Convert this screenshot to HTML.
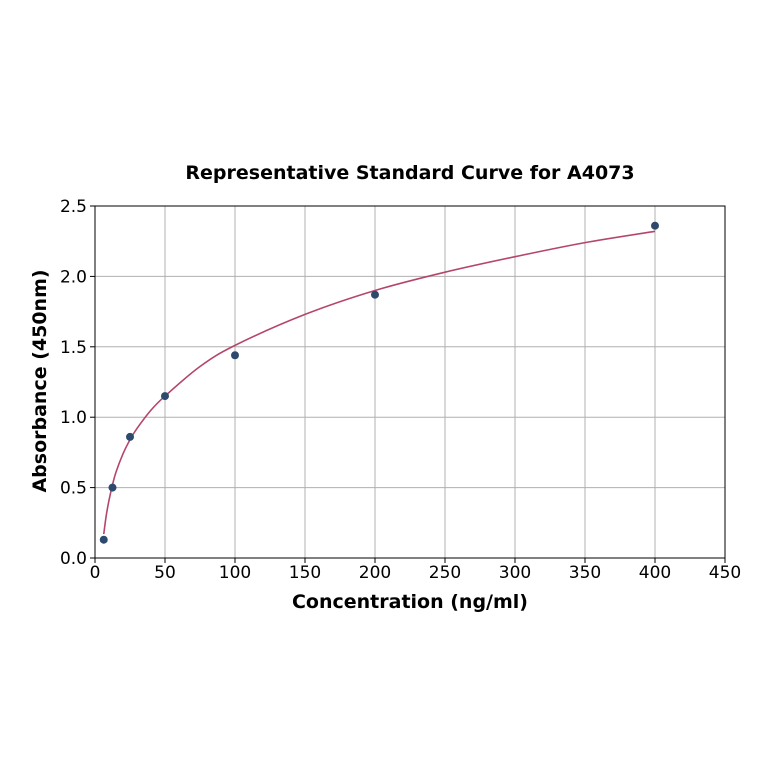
<!DOCTYPE html>
<html><head><meta charset="utf-8"><style>
body{margin:0;background:#fff;}
svg text{font-family:"DejaVu Sans","Liberation Sans",sans-serif;}
</style></head><body>
<svg id="chart" width="764" height="764" viewBox="0 0 764 764" xmlns="http://www.w3.org/2000/svg">
<rect width="764" height="764" fill="#fff"/>
<text x="410" y="179" text-anchor="middle" font-size="19" font-weight="bold">Representative Standard Curve for A4073</text>
<g id="grid"></g><g id="axes"></g><g id="series"></g>
<text x="410" y="608" text-anchor="middle" font-size="19" font-weight="bold">Concentration (ng/ml)</text>
<text transform="translate(46,381) rotate(-90)" text-anchor="middle" font-size="19" font-weight="bold">Absorbance (450nm)</text>
</svg>
<script>
const xTicks=[0,50,100,150,200,250,300,350,400,450];
const yTicks=[0.0,0.5,1.0,1.5,2.0,2.5];
const pointX=[6.25,12.5,25,50,100,200,400];
const pointY=[0.13,0.50,0.86,1.15,1.44,1.87,2.36];
const curveX=[6.25,8,10,12.5,15,20,25,30,40,50,75,100,150,200,250,300,350,400];
const curveY=[0.17,0.30,0.41,0.52,0.61,0.74,0.84,0.92,1.05,1.15,1.36,1.51,1.73,1.90,2.03,2.14,2.24,2.32];
const L=95,R=725,T=206,B=558;
const sx=v=>L+(v-0)/(450-0)*(R-L);
const sy=v=>B-(v-0)/(2.5-0)*(B-T);
const NS="http://www.w3.org/2000/svg";
function mk(tag,attrs,parent){const e=document.createElementNS(NS,tag);for(const k in attrs)e.setAttribute(k,attrs[k]);parent.appendChild(e);return e;}
const grid=document.getElementById('grid'),axes=document.getElementById('axes'),series=document.getElementById('series');
xTicks.forEach(t=>{
 const g=mk('line',{x1:sx(t),x2:sx(t),y1:T,y2:B,stroke:'#b0b0b0','stroke-width':1},grid);
 
 
 mk('line',{x1:sx(t),x2:sx(t),y1:B,y2:B+5,stroke:'#000','stroke-width':1},axes);
 const tx=mk('text',{x:sx(t),y:B+20,'text-anchor':'middle','font-size':17},axes);tx.textContent=t;
 
 
});
yTicks.forEach(t=>{
 const g=mk('line',{x1:L,x2:R,y1:sy(t),y2:sy(t),stroke:'#b0b0b0','stroke-width':1},grid);
 
 
 mk('line',{x1:L-5,x2:L,y1:sy(t),y2:sy(t),stroke:'#000','stroke-width':1},axes);
 const tx=mk('text',{x:L-8,y:sy(t)+6,'text-anchor':'end','font-size':17},axes);tx.textContent=t.toFixed(1);
 
 
});
const frame=mk('rect',{x:L,y:T,width:R-L,height:B-T,fill:'none',stroke:'#000','stroke-width':1},axes);


const P=curveX.map((x,i)=>[sx(x),sy(curveY[i])]);
let d='M'+P[0][0]+','+P[0][1];
for(let i=0;i<P.length-1;i++){
 const p0=P[Math.max(0,i-1)],p1=P[i],p2=P[i+1],p3=P[Math.min(P.length-1,i+2)];
 const c1=[p1[0]+(p2[0]-p0[0])/6,p1[1]+(p2[1]-p0[1])/6];
 const c2=[p2[0]-(p3[0]-p1[0])/6,p2[1]-(p3[1]-p1[1])/6];
 d+=` C${c1[0]},${c1[1]} ${c2[0]},${c2[1]} ${p2[0]},${p2[1]}`;
}
const path=mk('path',{d:d,fill:'none',stroke:'#b5466b','stroke-width':1.6},series);


pointX.forEach((x,i)=>{
 const c=mk('circle',{cx:sx(x),cy:sy(pointY[i]),r:4,fill:'#2d4a6e'},series);
 
 
});
</script>
</body></html>
